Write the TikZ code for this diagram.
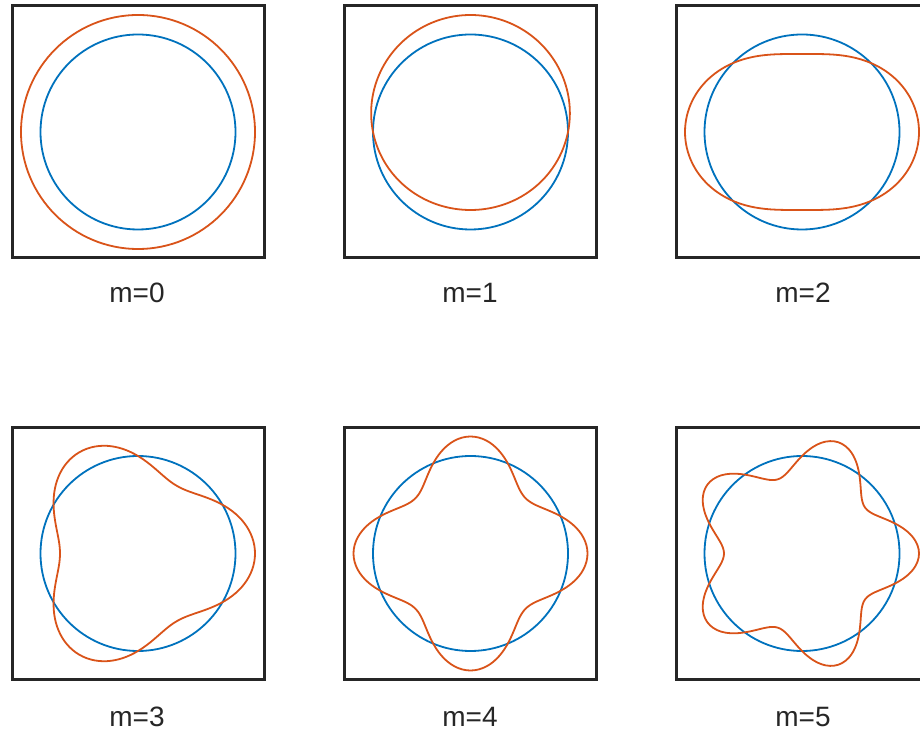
\documentclass[tikz,border=0pt]{standalone}
\usepackage{fontspec}
\setmainfont{Liberation Sans}
\usetikzlibrary{positioning}
\definecolor{ringblue}{HTML}{0072BD}
\definecolor{modeorange}{HTML}{D95319}
\definecolor{frame}{HTML}{262626}

\begin{document}
\begin{tikzpicture}[x=1pt, y=1pt,
    panel/.style={rectangle, draw=frame, line width=3pt, minimum width=252pt,
        minimum height=252pt, inner sep=0pt},
    caption/.style={anchor=base, text=frame, font=\fontsize{28}{32}\selectfont},
    ring/.style={draw=ringblue, line width=1.8pt},
    mode/.style={draw=modeorange, line width=1.8pt, smooth cycle, samples=180, domain=0:358},
]
\useasboundingbox (0,0) rectangle (920,733);

% Top row
\node[panel] (box0) at (138, 601) {};
\draw[ring] (box0.center) circle[radius=97.5];
\draw[ring, draw=modeorange] (box0.center) circle[radius=117];
\node[caption] (cap0) at (137, 430) {m=0};

\node[panel] (box1) at (470.5, 601) {};
\draw[ring] (box1.center) circle[radius=97.5];
\draw[mode, shift={(box1.center)}] plot (\x:{97.5+19.5*sin(\x)});
\node[caption] (cap1) at (470, 430) {m=1};

\node[panel] (box2) at (802, 601) {};
\draw[ring] (box2.center) circle[radius=97.5];
\draw[mode, shift={(box2.center)}] plot (\x:{97.5+19.5*cos(2*\x)});
\node[caption] (cap2) at (803, 430) {m=2};

% Bottom row
\node[panel] (box3) at (138, 179.5) {};
\draw[ring] (box3.center) circle[radius=97.5];
\draw[mode, shift={(box3.center)}] plot (\x:{97.5+19.5*cos(3*\x)});
\node[caption] (cap3) at (137, 7) {m=3};

\node[panel] (box4) at (470.5, 179.5) {};
\draw[ring] (box4.center) circle[radius=97.5];
\draw[mode, shift={(box4.center)}] plot (\x:{97.5+19.5*cos(4*\x)});
\node[caption] (cap4) at (470, 7) {m=4};

\node[panel] (box5) at (802, 179.5) {};
\draw[ring] (box5.center) circle[radius=97.5];
\draw[mode, shift={(box5.center)}] plot (\x:{97.5+19.5*cos(5*\x)});
\node[caption] (cap5) at (803, 7) {m=5};

\end{tikzpicture}
\end{document}
